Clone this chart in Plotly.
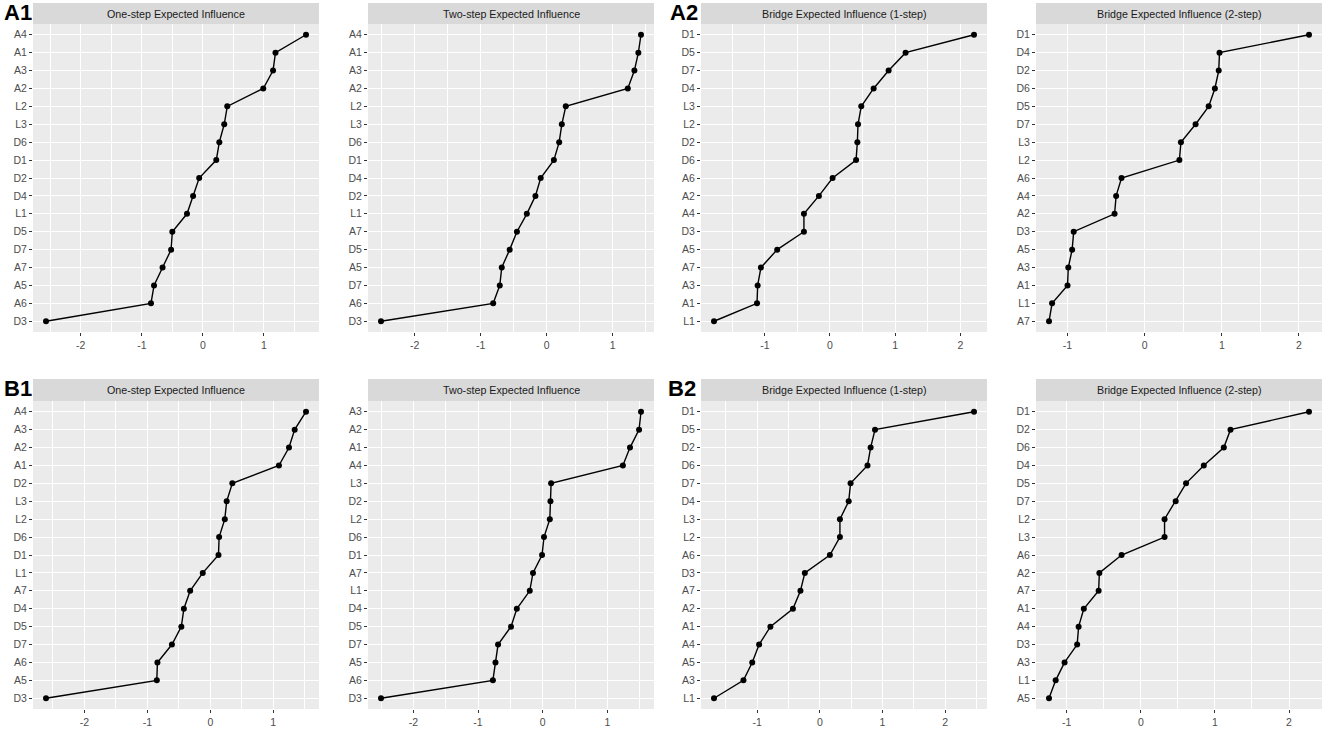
import math
import plotly.graph_objects as go

W, H = 1325, 730

# ---- data (nodes listed top to bottom) ----
a1_one_nodes = ["A4", "A1", "A3", "A2", "L2", "L3", "D6", "D1", "D2", "D4", "L1", "D5", "D7", "A7", "A5", "A6", "D3"]
a1_one_vals = [1.69, 1.19, 1.15, 0.99, 0.40, 0.35, 0.27, 0.22, -0.06, -0.16, -0.26, -0.50, -0.52, -0.66, -0.80, -0.85, -2.57]

a1_two_nodes = ["A4", "A1", "A3", "A2", "L2", "L3", "D6", "D1", "D4", "D2", "L1", "A7", "D5", "A5", "D7", "A6", "D3"]
a1_two_vals = [1.43, 1.39, 1.33, 1.23, 0.29, 0.23, 0.19, 0.11, -0.09, -0.17, -0.30, -0.45, -0.56, -0.68, -0.71, -0.81, -2.51]

a2_b1_nodes = ["D1", "D5", "D7", "D4", "L3", "L2", "D2", "D6", "A6", "A2", "A4", "D3", "A5", "A7", "A3", "A1", "L1"]
a2_b1_vals = [2.21, 1.16, 0.90, 0.67, 0.48, 0.43, 0.42, 0.40, 0.04, -0.17, -0.40, -0.40, -0.81, -1.06, -1.11, -1.12, -1.78]

a2_b2_nodes = ["D1", "D4", "D2", "D6", "D5", "D7", "L3", "L2", "A6", "A4", "A2", "D3", "A5", "A3", "A1", "L1", "A7"]
a2_b2_vals = [2.13, 0.97, 0.96, 0.91, 0.83, 0.66, 0.47, 0.45, -0.30, -0.37, -0.39, -0.92, -0.94, -0.99, -1.00, -1.20, -1.24]

b1_one_nodes = ["A4", "A3", "A2", "A1", "D2", "L3", "L2", "D6", "D1", "L1", "A7", "D4", "D5", "D7", "A6", "A5", "D3"]
b1_one_vals = [1.52, 1.34, 1.25, 1.09, 0.35, 0.26, 0.23, 0.14, 0.13, -0.12, -0.32, -0.42, -0.46, -0.61, -0.84, -0.85, -2.61]

b1_two_nodes = ["A3", "A2", "A1", "A4", "L3", "D2", "L2", "D6", "D1", "A7", "L1", "D4", "D5", "D7", "A5", "A6", "D3"]
b1_two_vals = [1.52, 1.49, 1.35, 1.24, 0.13, 0.12, 0.11, 0.02, -0.01, -0.15, -0.20, -0.40, -0.49, -0.69, -0.73, -0.77, -2.50]

b2_b1_nodes = ["D1", "D5", "D2", "D6", "D7", "D4", "L3", "L2", "A6", "D3", "A7", "A2", "A1", "A4", "A5", "A3", "L1"]
b2_b1_vals = [2.46, 0.88, 0.81, 0.76, 0.49, 0.46, 0.32, 0.32, 0.16, -0.24, -0.31, -0.43, -0.79, -0.97, -1.08, -1.22, -1.69]

b2_b2_nodes = ["D1", "D2", "D6", "D4", "D5", "D7", "L2", "L3", "A6", "A2", "A7", "A1", "A4", "D3", "A3", "L1", "A5"]
b2_b2_vals = [2.27, 1.21, 1.12, 0.85, 0.61, 0.47, 0.32, 0.32, -0.26, -0.56, -0.57, -0.77, -0.84, -0.86, -1.03, -1.15, -1.24]

titles = ["One-step Expected Influence", "Two-step Expected Influence",
          "Bridge Expected Influence (1-step)", "Bridge Expected Influence (2-step)"]
panel_labels = ["A1", "A2", "B1", "B2"]

panels = [
    (a1_one_nodes, a1_one_vals, titles[0], 0, 0),
    (a1_two_nodes, a1_two_vals, titles[1], 0, 1),
    (a2_b1_nodes, a2_b1_vals, titles[2], 0, 2),
    (a2_b2_nodes, a2_b2_vals, titles[3], 0, 3),
    (b1_one_nodes, b1_one_vals, titles[0], 1, 0),
    (b1_two_nodes, b1_two_vals, titles[1], 1, 1),
    (b2_b1_nodes, b2_b1_vals, titles[2], 1, 2),
    (b2_b2_nodes, b2_b2_vals, titles[3], 1, 3),
]

# ---- layout geometry (pixels) ----
col_left = [33, 368, 701, 1036]
panel_w = 286
row_strip = [(3, 24), (379, 401)]
row_plot = [(24, 332), (401, 709)]

FONT = "Liberation Sans, Arial, Helvetica, sans-serif"

fig = go.Figure()
layout = dict(
    width=W, height=H,
    margin=dict(l=0, r=0, t=0, b=0, autoexpand=False),
    paper_bgcolor="white",
    plot_bgcolor="#EBEBEB",
    showlegend=False,
    font=dict(family=FONT),
    shapes=[], annotations=[],
)

for i, (nodes, vals, title, row, col) in enumerate(panels, start=1):
    xname = "x" if i == 1 else f"x{i}"
    yname = "y" if i == 1 else f"y{i}"
    fig.add_trace(go.Scatter(
        x=vals, y=nodes, mode="lines+markers",
        line=dict(color="black", width=1.4),
        marker=dict(color="black", size=6),
        xaxis=xname, yaxis=yname, hoverinfo="x+y", cliponaxis=False,
    ))
    x0 = col_left[col] / W
    x1 = (col_left[col] + panel_w) / W
    pt, pb = row_plot[row]
    y0 = 1 - pb / H
    y1 = 1 - pt / H
    vmin, vmax = min(vals), max(vals)
    span = vmax - vmin
    xr = [vmin - 0.05 * span, vmax + 0.05 * span]
    tvals = list(range(math.ceil(xr[0]), math.floor(xr[1]) + 1))
    ttext = [str(v) for v in tvals]
    n = len(nodes)
    layout["xaxis" if i == 1 else f"xaxis{i}"] = dict(
        domain=[x0, x1], anchor=yname, range=xr, automargin=False,
        tickmode="array", tickvals=tvals, ticktext=ttext,
        showgrid=True, gridcolor="white", gridwidth=1.1,
        minor=dict(tick0=0, dtick=0.5, showgrid=True, gridcolor="white", gridwidth=0.5, ticks=""),
        zeroline=False, showline=False,
        ticks="outside", ticklen=3, tickwidth=1, tickcolor="#333333",
        tickfont=dict(size=10.5, color="#4D4D4D", family=FONT),
        fixedrange=True,
    )
    layout["yaxis" if i == 1 else f"yaxis{i}"] = dict(
        domain=[y0, y1], anchor=xname, type="category", automargin=False,
        categoryorder="array", categoryarray=list(reversed(nodes)),
        range=[-0.6, n - 1 + 0.6],
        showgrid=True, gridcolor="white", gridwidth=1.1,
        zeroline=False, showline=False,
        ticks="outside", ticklen=3, tickwidth=1, tickcolor="#333333",
        tickfont=dict(size=10.5, color="#4D4D4D", family=FONT),
        fixedrange=True,
    )
    st, sb = row_strip[row]
    layout["shapes"].append(dict(
        type="rect", xref="paper", yref="paper",
        x0=x0, x1=x1, y0=1 - sb / H, y1=1 - st / H,
        fillcolor="#D9D9D9", line=dict(width=0), layer="below",
    ))
    layout["annotations"].append(dict(
        text=title, xref="paper", yref="paper",
        x=(x0 + x1) / 2, y=1 - (st + sb) / 2 / H,
        xanchor="center", yanchor="middle", showarrow=False,
        font=dict(size=10.7, color="#1A1A1A", family=FONT),
    ))

label_pos = [(2, 13), (668, 13), (2, 388), (666, 388)]
for lab, (px, py) in zip(panel_labels, label_pos):
    layout["annotations"].append(dict(
        text=f"<b>{lab}</b>", xref="paper", yref="paper",
        x=px / W, y=1 - py / H, xanchor="left", yanchor="middle",
        showarrow=False, font=dict(size=22, color="black", family=FONT),
    ))

fig.update_layout(**layout)
fig.write_html(
    "out.html",
    config={"displayModeBar": False},
    post_script="document.body.style.margin='0';document.body.style.overflow='hidden';",
)
